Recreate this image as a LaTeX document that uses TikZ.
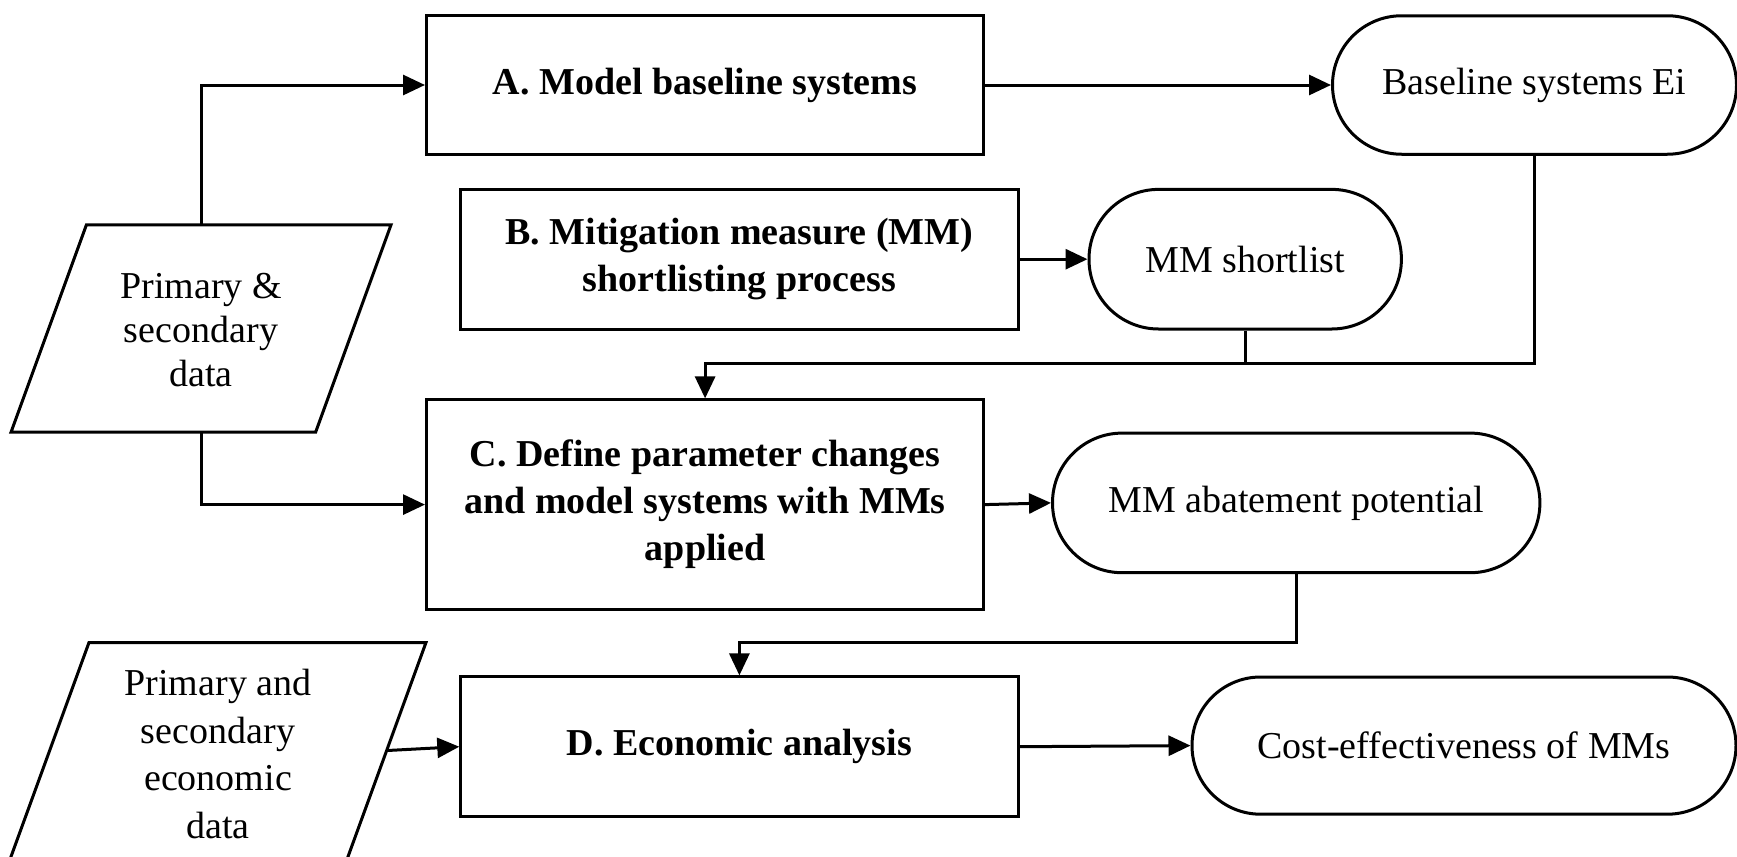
\documentclass[tikz,border=0pt]{standalone}
\usepackage{fontspec}
\setmainfont{Liberation Serif}
\usetikzlibrary{arrows.meta}
\begin{document}
\begin{tikzpicture}[x=0.5pt,y=-0.5pt, line width=1.5pt,
  proc/.style={draw, rectangle, minimum width=278.6pt, minimum height=69.8pt, align=center, font=\fontsize{19}{23.5}\selectfont\bfseries, inner sep=0pt},
  term/.style={draw, rectangle, minimum height=69.8pt, rounded corners=34.8pt, align=center, font=\fontsize{19}{23.5}\selectfont, inner sep=0pt},
  datatxt/.style={align=center, font=\fontsize{19}{23.85}\selectfont},
  conn/.style={-{Triangle[length=11pt,width=10pt]}}
]
\useasboundingbox (0,0) rectangle (1737,857);

% process boxes
\node[proc] (A) at (705.1,85) {A. Model baseline systems};
\node[proc] (B) at (739.4,259.2) {B. Mitigation measure (MM)\\shortlisting process};
\node[proc, minimum height=104.7pt] (C) at (705.1,504.6) {C. Define parameter changes\\and model systems with MMs\\applied};
\node[proc] (D) at (739.4,746.7) {D. Economic analysis};

% terminals
\node[term, minimum width=202pt, minimum height=69.25pt, rounded corners=34.6pt] (base) at (1534.5,85) {Baseline systems Ei};
\node[term, minimum width=156.2pt] (short) at (1245.2,259.2) {MM shortlist};
\node[term, minimum width=243.7pt] (abat) at (1296.2,502.9) {MM abatement potential};
\node[term, minimum width=272pt, minimum height=68.6pt, rounded corners=34.3pt] (cost) at (1464,745.6) {Cost-effectiveness of MMs};

% data parallelograms
\draw (86.4,224.9) -- (391,224.9) -- (315.7,432) -- (11.1,432) -- cycle;
\node[datatxt, font=\fontsize{19}{21.9}\selectfont] (p1) at (201,330) {Primary \&\\secondary\\data};
\coordinate (p1top) at (201.6,224.9);
\coordinate (p1bot) at (201.6,432);

\draw (2.5,880) -- (89,642.5) -- (426,642.5) -- (339.5,880);
\node[datatxt] (p2) at (218,754) {Primary and\\secondary\\economic\\data};
\coordinate (p2out) at (387.5,750.5);

% junction levels
\coordinate (j1) at (1245.2,363.4);
\coordinate (j2) at (1296.2,642.5);

% connectors
\draw[conn] (p1top) |- (A.west);
\draw[conn] (p1bot) |- (C.west);
\draw[conn] (A.east) -- (base.west);
\draw[conn] (B.east) -- (short.west);
\draw (short.south) -- (j1);
\draw[conn] (base.south) -- (base.south |- j1) -| (C.north);
\draw[conn] (C.east) -- (abat.west);
\draw[conn] (abat.south) -- (j2) -| (D.north);
\draw[conn] (p2out) -- (D.west);
\draw[conn] (D.east) -- (cost.west);
\end{tikzpicture}
\end{document}
